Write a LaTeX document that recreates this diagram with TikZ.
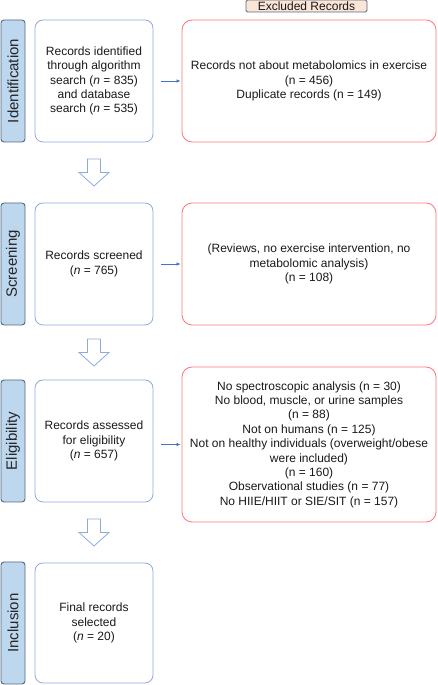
\documentclass[tikz,border=0pt]{standalone}
\usepackage{fontspec}
\setmainfont{Liberation Sans}
\usepackage{xcolor}
\usetikzlibrary{arrows.meta,positioning,calc}

\definecolor{boxblue}{HTML}{8FAADC}
\definecolor{boxred}{HTML}{FF7478}
\definecolor{stagefill}{HTML}{BDD7EE}
\definecolor{stageline}{HTML}{58687C}
\definecolor{arrowblue}{HTML}{4472C4}
\definecolor{tagfill}{HTML}{FBE5D6}

\begin{document}
\begin{tikzpicture}[x=1pt, y=1pt,
    txt/.style={font=\fontsize{12}{14.4}\selectfont, text=black!90, align=center},
    stage/.style={draw=stageline, fill=stagefill, line width=0.9pt, rounded corners=3pt, rotate=90,
        minimum width=122pt, minimum height=24pt, inner sep=0pt, font=\fontsize{15}{18}\selectfont, text=black!85},
    rec/.style={txt, draw=boxblue, line width=0.8pt, rounded corners=8pt, minimum width=118pt, minimum height=122pt, inner sep=2pt},
    excl/.style={txt, draw=boxred, line width=0.8pt, rounded corners=10pt, minimum width=254pt, minimum height=122pt, inner sep=2pt},
    smallarr/.style={draw=arrowblue, line width=0.7pt, -{Latex[length=4pt,width=3.5pt]}, shorten <=8pt, shorten >=1pt},
    hollow/.pic={\draw[boxblue, line width=0.8pt, fill=white] (-6.5,13.5) -- (-6.5,0) -- (-15,0) -- (0,-13.5) -- (15,0) -- (6.5,0) -- (6.5,13.5) -- cycle;}]
    \useasboundingbox (0,0) rectangle (437,685);

    % stages
    \node[stage] (st1) at (13,604) {Identification};
    \node[stage] (st2) at (13,421) {Screening};
    \node[stage] (st3) at (13,244) {Eligibility};
    \node[stage] (st4) at (13,62) {Inclusion};

    % records kept
    \node[rec] (rec1) at (94,604) {Records identified\\through algorithm\\search (\textit{n} = 835)\\and database\\search (\textit{n} = 535)};
    \node[rec] (rec2) at (94,421) {Records screened\\(\textit{n} = 765)};
    \node[rec] (rec3) at (94,244) {Records assessed\\for eligibility\\(\textit{n} = 657)};
    \node[rec, minimum height=120pt] (rec4) at (94,62) {Final records\\selected\\(\textit{n} = 20)};

    % records excluded
    \node[txt, draw=stageline, fill=tagfill, line width=0.8pt, rounded corners=1.5pt, minimum width=121pt, minimum height=12pt, inner sep=0pt] (tag) at (306.5,679) {Excluded Records};
    \node[excl] (exc1) at (309,604) {Records not about metabolomics in exercise\\(n = 456)\\Duplicate records (n = 149)};
    \node[excl] (exc2) at (309,421) {(Reviews, no exercise intervention, no\\metabolomic analysis)\\(n = 108)};
    \node[excl, minimum height=155pt] (exc3) at (309,240.5) {No spectroscopic analysis (n = 30)\\No blood, muscle, or urine samples\\(n = 88)\\Not on humans (n = 125)\\Not on healthy individuals (overweight/obese\\were included)\\(n = 160)\\Observational studies (n = 77)\\No HIIE/HIIT or SIE/SIT (n = 157)};

    % arrows
    \draw[smallarr] (rec1.east) -- (exc1.west);
    \draw[smallarr] (rec2.east) -- (exc2.west);
    \draw[smallarr] (rec3.east |- exc3.west) -- (exc3.west);

    \path (rec1.south) -- (rec2.north) coordinate[midway] (m1);
    \path (rec2.south) -- (rec3.north) coordinate[midway] (m2);
    \path (rec3.south) -- (rec4.north) coordinate[midway] (m3);
    \pic at (m1) {hollow};
    \pic at (m2) {hollow};
    \pic at (m3) {hollow};
\end{tikzpicture}
\end{document}
